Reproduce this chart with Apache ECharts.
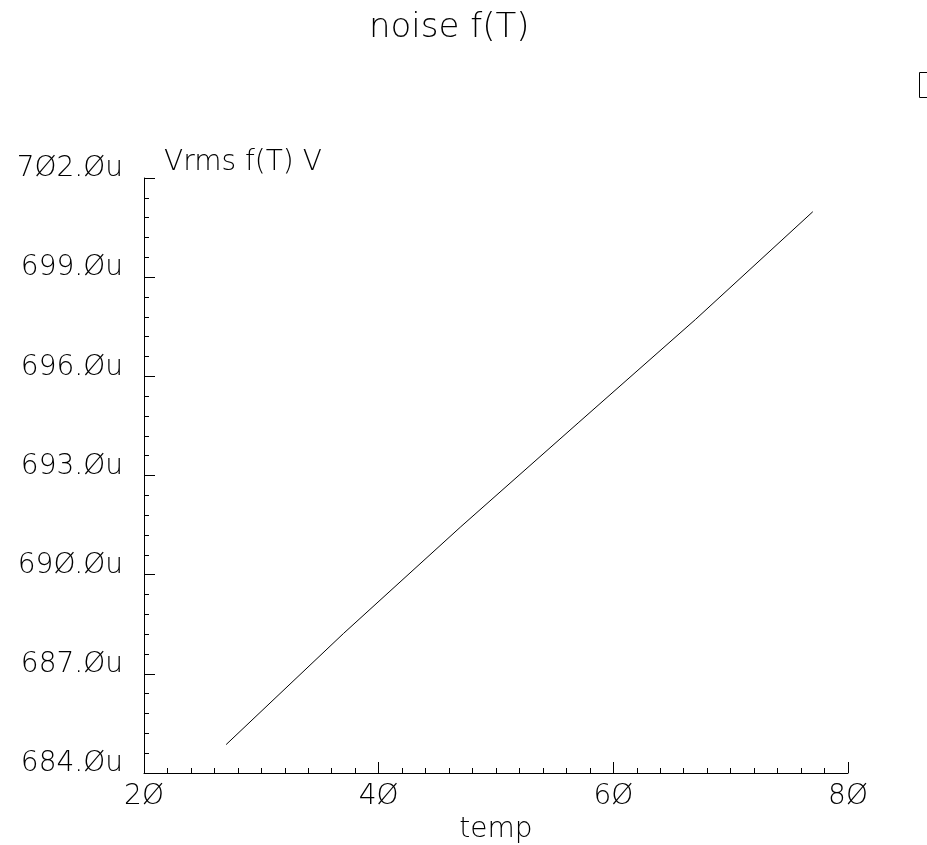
<!DOCTYPE html>
<html lang="en" style="height: 100%">
<head>
  <meta charset="utf-8">
  <title>noise f(T)</title>
</head>
<body style="height: 100%; margin: 0; background: #fff">
  <div id="container" style="height: 100%"></div>

  <script type="text/javascript" src="https://cdn.jsdelivr.net/npm/echarts@6/dist/echarts.min.js"></script>

  <script type="text/javascript">
    var dom = document.getElementById('container');
    var myChart = echarts.init(dom, null, {
      renderer: 'canvas',
      useDirtyRect: false
    });

    // temperature (deg C)
    const temps = [27, 37, 47, 57, 67, 77];
    // Vrms in micro volts
    const vrms = [684.86, 688.22, 691.45, 694.59, 697.72, 700.98];

    const FONT = 'DejaVu Sans';

    // the plot uses a slashed zero
    function slash(s) {
      return String(s).replace(/0/g, '\u00D8');
    }

    var option = {
      backgroundColor: '#fff',
      animation: false,
      title: {
        text: 'noise f(T)',
        left: 364,
        top: 6,
        textStyle: {
          fontFamily: FONT,
          fontWeight: 200,
          fontSize: 34,
          color: '#000'
        }
      },
      // legend box, cut off at the right edge
      graphic: [
        {
          type: 'rect',
          x: 919.5,
          y: 72.5,
          shape: { width: 30, height: 25 },
          style: { fill: 'none', stroke: '#000', lineWidth: 1 }
        }
      ],
      grid: {
        left: 144,
        right: 79,
        top: 178,
        bottom: 72,
        outerBoundsMode: 'none'
      },
      xAxis: {
        type: 'value',
        min: 20,
        max: 80,
        interval: 20,
        name: 'temp',
        nameLocation: 'middle',
        nameGap: 27,
        nameTextStyle: {
          fontFamily: FONT,
          fontWeight: 200,
          fontSize: 28,
          color: '#000'
        },
        axisLine: { show: true, onZero: false, lineStyle: { color: '#000', width: 1 } },
        axisTick: { show: true, inside: true, length: 11, lineStyle: { color: '#000' } },
        minorTick: { show: true, splitNumber: 10, length: 5, lineStyle: { color: '#000' } },
        splitLine: { show: false },
        axisLabel: {
          margin: 10,
          fontFamily: FONT,
          fontWeight: 200,
          fontSize: 28,
          color: '#000',
          formatter: function (v) { return slash(v); }
        }
      },
      yAxis: {
        type: 'value',
        min: 684,
        max: 702,
        interval: 3,
        name: 'Vrms f(T) V',
        nameLocation: 'end',
        nameGap: 1,
        nameTextStyle: {
          fontFamily: FONT,
          fontWeight: 200,
          fontSize: 28,
          color: '#000',
          align: 'left',
          verticalAlign: 'bottom',
          padding: [0, 0, 0, 20]
        },
        axisLine: { show: true, onZero: false, lineStyle: { color: '#000', width: 1 } },
        axisTick: { show: true, inside: true, length: 11, lineStyle: { color: '#000' } },
        minorTick: { show: true, splitNumber: 5, length: 5, lineStyle: { color: '#000' } },
        splitLine: { show: false },
        axisLabel: {
          margin: 21,
          fontFamily: FONT,
          fontWeight: 200,
          fontSize: 28,
          color: '#000',
          verticalAlign: 'bottom',
          lineHeight: 18,
          formatter: function (v) { return slash(v.toFixed(1)) + 'u'; }
        }
      },
      series: [
        {
          name: 'Vrms f(T) V',
          type: 'line',
          showSymbol: false,
          symbol: 'none',
          lineStyle: { color: '#000', width: 1 },
          itemStyle: { color: '#000' },
          data: temps.map(function (t, i) { return [t, vrms[i]]; })
        }
      ]
    };

    if (option && typeof option === 'object') {
      myChart.setOption(option);
    }

    window.addEventListener('resize', myChart.resize);
  </script>
</body>
</html>
